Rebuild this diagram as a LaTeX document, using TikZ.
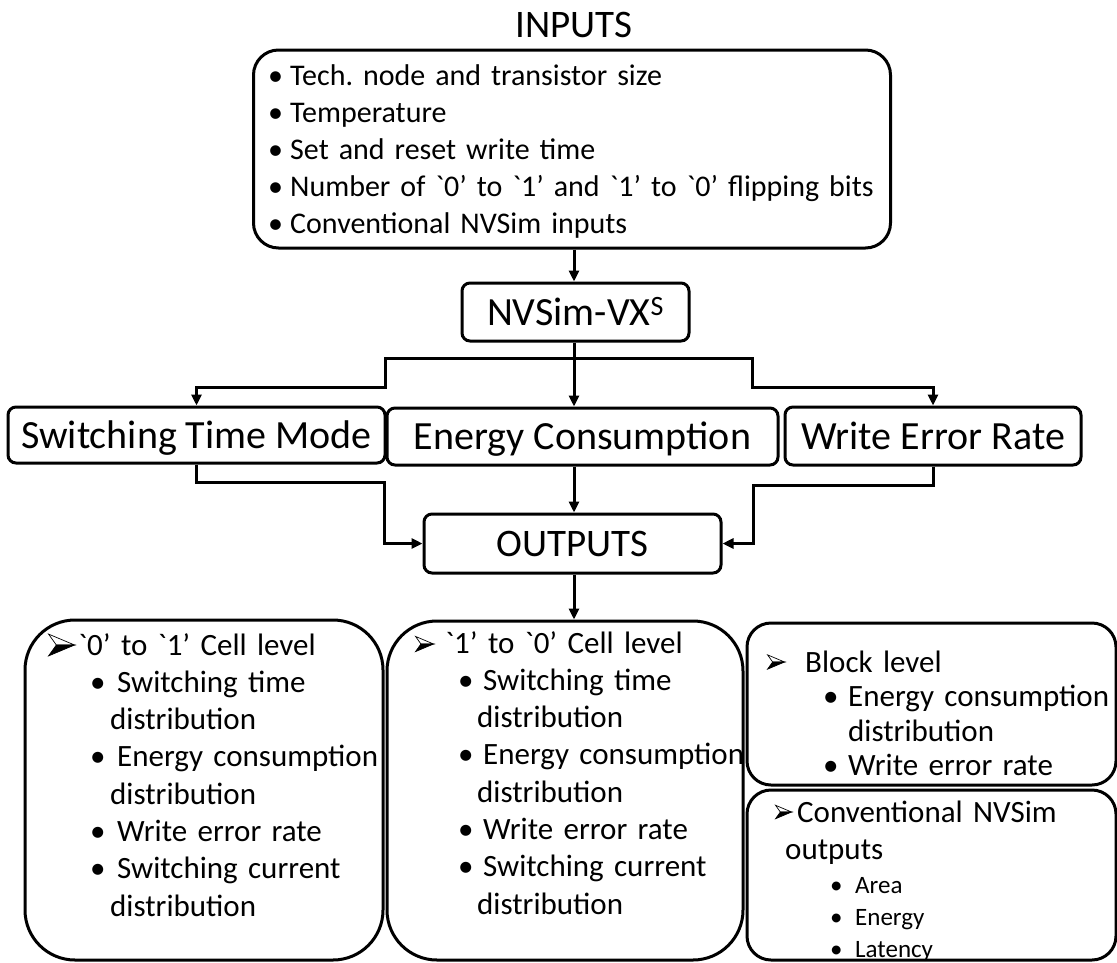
\documentclass[tikz,border=0pt]{standalone}
\usepackage{fontspec}
\setmainfont{Carlito}[Ligatures=TeXOff]
\usetikzlibrary{arrows.meta}
\newcommand\fsT{\fontsize{39}{47}\selectfont}
\newcommand\fsB{\fontsize{40}{48}\selectfont}
\newcommand\fsM{\fontsize{31}{37.3}\selectfont}
\newcommand\fsI{\fontsize{30}{37}\selectfont}
\newcommand\Bul[1]{\makebox[#1][l]{•}}
% 3-D arrowhead bullet: #1 glyph width, #2 box width, #3 raise
\newcommand\Ah[3]{\makebox[#2][l]{\tikz[x=#1pt,y=#1pt,baseline=-#3pt]{%
  \draw[line width=0.7pt, line join=miter, fill=white] (0,0.42)--(1,0)--(0.3,0)--cycle;
  \filldraw[line width=0.7pt, line join=miter] (0,-0.42)--(1,0)--(0.3,0)--cycle;}}}
\frenchspacing
\begin{document}
\begin{tikzpicture}[x=1pt,y=-1pt,
  box/.style={draw, line width=3pt, rounded corners=8pt, inner sep=0pt, font=\fsB, text height=26pt, text depth=0pt},
  big/.style={draw, line width=3pt, inner sep=0pt},
  txt/.style={anchor=base west, inner sep=0pt, align=left, text width=800pt, font=\fsM},
  arr/.style={line width=3pt, -{Triangle[length=11pt,width=10pt]}}]
\useasboundingbox (0,0) rectangle (1117,962);

% title and inputs
\node[font=\fsT, inner sep=0pt, anchor=base] (ttl) at (574,37) {INPUTS};
\node[big, rounded corners=25pt, minimum width=637pt, minimum height=198pt] (inp) at (572,149) {};
\node[txt, font=\fsI] (inpt) at (268,85) {\Bul{22pt}Tech. node and transistor size\\
\Bul{22pt}Temperature\\
\Bul{22pt}Set and reset write time\\
\Bul{22pt}Number of `0’ to `1’ and `1’ to `0’ flipping bits\\
\Bul{22pt}Conventional NVSim inputs};

% middle boxes
\node[box, minimum width=227pt, minimum height=58pt] (nv) at (575.5,312) {NVSim-VX\textsuperscript{S}};
\node[box, minimum width=377pt, minimum height=56pt] (sw) at (196.5,435) {Switching Time Mode};
\node[box, minimum width=391pt, minimum height=57pt] (en) at (582.5,436.5) {Energy Consumption};
\node[box, minimum width=296pt, minimum height=58pt] (wr) at (933,436) {Write Error Rate};
\node[box, font=\fsT, text height=25pt, minimum width=297pt, minimum height=59pt] (out) at (572.5,543.5) {OUTPUTS};

% bottom boxes
\node[big, rounded corners=50pt, minimum width=358pt, minimum height=340pt] (lb) at (204,790) {};
\node[big, rounded corners=50pt, minimum width=356pt, minimum height=339pt] (mb) at (565,790.5) {};
\node[big, rounded corners=24pt, minimum width=369pt, minimum height=162pt] (rt) at (931.5,704) {};
\node[big, rounded corners=24pt, minimum width=369pt, minimum height=170pt] (rb) at (931.5,875) {};

\node[txt] (lbt) at (48,655) {\Ah{26}{30pt}{10}`0’ to `1’ Cell level\\
\hspace*{42pt}\Bul{27pt}Switching time\\
\hspace*{62pt}distribution\\
\hspace*{42pt}\Bul{27pt}Energy consumption\\
\hspace*{62pt}distribution\\
\hspace*{42pt}\Bul{27pt}Write error rate\\
\hspace*{42pt}\Bul{27pt}Switching current\\
\hspace*{62pt}distribution};

\node[txt] (mbt) at (415,653) {\Ah{18}{30pt}{9}`1’ to `0’ Cell level\\
\hspace*{43pt}\Bul{25pt}Switching time\\
\hspace*{62pt}distribution\\
\hspace*{43pt}\Bul{25pt}Energy consumption\\
\hspace*{62pt}distribution\\
\hspace*{43pt}\Bul{25pt}Write error rate\\
\hspace*{43pt}\Bul{25pt}Switching current\\
\hspace*{62pt}distribution};

\node[txt, font=\fontsize{31}{34.5}\selectfont] (rtt) at (767,672) {\Ah{17}{38pt}{10}Block level\\
\hspace*{56pt}\Bul{25pt}Energy consumption\\
\hspace*{81pt}distribution\\
\hspace*{56pt}\Bul{25pt}Write error rate};

\node[txt] (rbt) at (775,822) {\Ah{16}{22pt}{10}Conventional NVSim\\
\hspace*{10pt}outputs};
\node[txt, font=\fontsize{25}{32}\selectfont] (rbs) at (830,893) {\Bul{25pt}Area\\
\Bul{25pt}Energy\\
\Bul{25pt}Latency};

% connectors
\coordinate (ax) at (574,0);
\coordinate (t) at (574,358);
\coordinate (tl) at (385,387);
\coordinate (tr) at (752,387);
\coordinate (bl) at (384,482);
\coordinate (br) at (753,485);

\draw[arr] (inp.south -| ax) -- (nv.north -| ax);
\draw[arr] (nv.south -| ax) -- (en.north -| ax);
\draw[arr] (t) -| (tl) -| (sw.north);
\draw[arr] (t) -| (tr) -| (wr.north);
\draw[arr] (sw.south) |- (bl) |- (out.west);
\draw[arr] (wr.south) |- (br) |- (out.east);
\draw[arr] (en.south -| ax) -- (out.north -| ax);
\draw[arr] (out.south -| ax) -- (mb.north -| ax);
\end{tikzpicture}
\end{document}
